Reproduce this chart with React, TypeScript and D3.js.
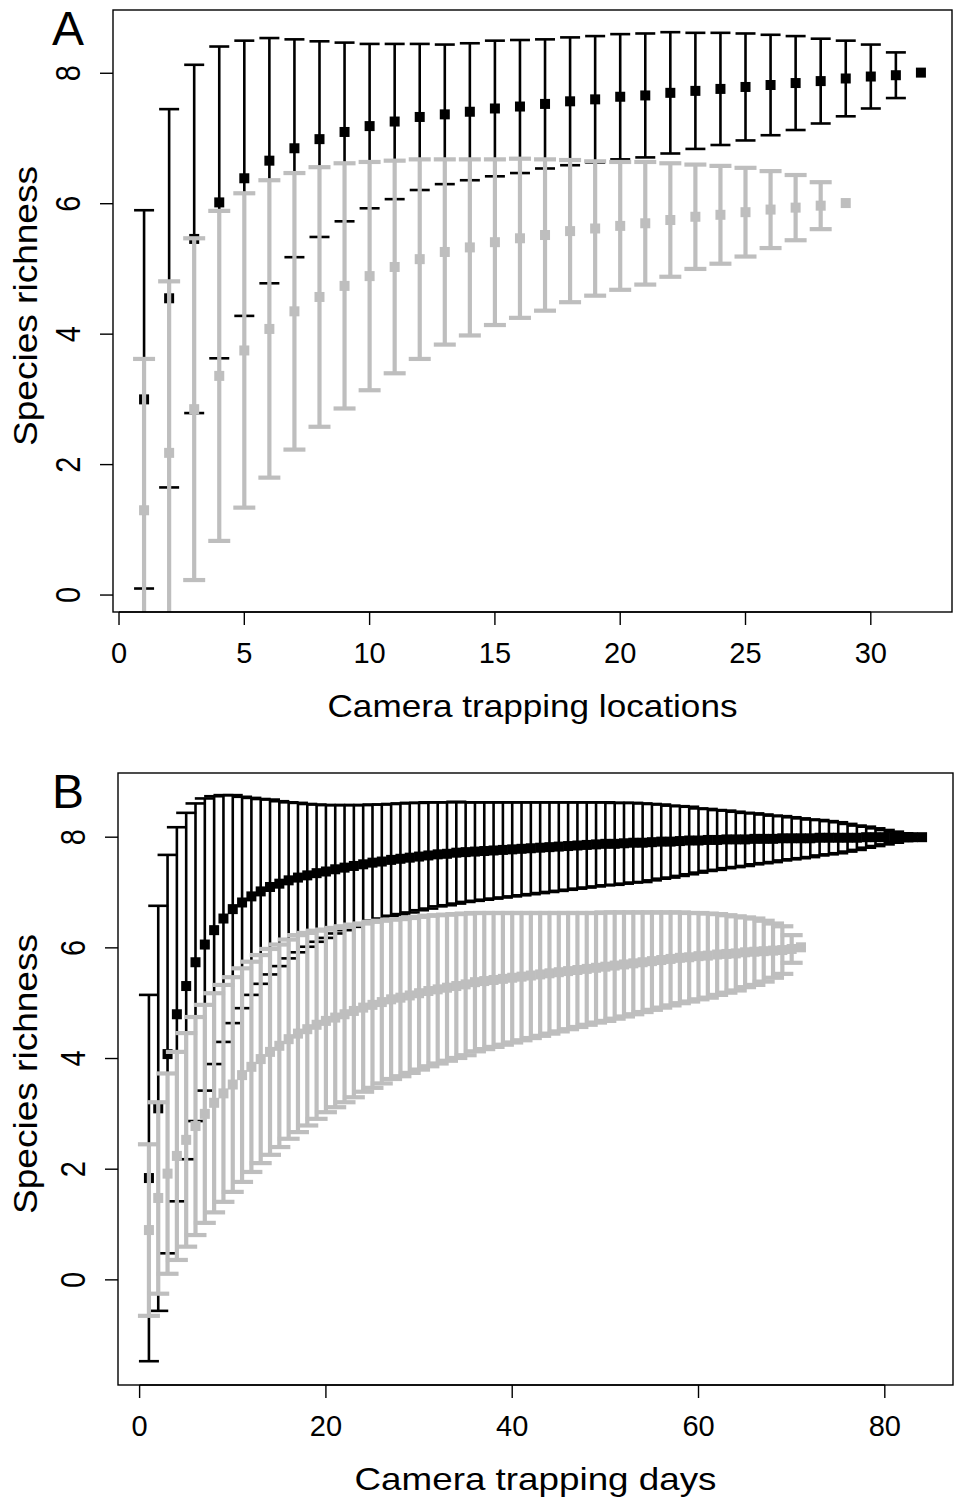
import * as d3 from "d3";

// Panel A: species richness vs number of camera trapping locations
const locBlackMean = [3.0, 4.55, 5.46, 6.02, 6.39, 6.66, 6.85, 6.99, 7.1, 7.19, 7.26, 7.33, 7.37, 7.41, 7.46, 7.49, 7.53, 7.57, 7.6, 7.64, 7.66, 7.7, 7.73, 7.76, 7.79, 7.82, 7.85, 7.88, 7.92, 7.95, 7.97, 8.01];
const locBlackSd = [2.9, 2.9, 2.67, 2.39, 2.11, 1.88, 1.67, 1.5, 1.37, 1.26, 1.19, 1.12, 1.07, 1.05, 1.04, 1.02, 0.99, 0.98, 0.97, 0.96, 0.95, 0.93, 0.89, 0.86, 0.82, 0.77, 0.72, 0.65, 0.58, 0.49, 0.35, 0];
const locGrayMean = [1.3, 2.18, 2.85, 3.36, 3.75, 4.08, 4.35, 4.57, 4.74, 4.89, 5.03, 5.15, 5.26, 5.33, 5.41, 5.47, 5.52, 5.58, 5.62, 5.66, 5.7, 5.75, 5.8, 5.83, 5.87, 5.91, 5.94, 5.97, 6.01];
const locGraySd = [2.32, 2.63, 2.62, 2.53, 2.41, 2.28, 2.12, 1.99, 1.88, 1.75, 1.63, 1.53, 1.42, 1.35, 1.27, 1.22, 1.16, 1.09, 1.03, 0.98, 0.94, 0.87, 0.8, 0.75, 0.68, 0.59, 0.5, 0.36, 0];
const locXTicks = [0, 5, 10, 15, 20, 25, 30];

// Panel B: species richness vs number of camera trapping days
const dayBlackMean = [
  1.84, 3.1, 4.08, 4.8, 5.31, 5.74, 6.06, 6.32, 6.53, 6.7,
  6.82, 6.93, 7.02, 7.1, 7.16, 7.22, 7.27, 7.31, 7.35, 7.38,
  7.42, 7.45, 7.48, 7.51, 7.54, 7.56, 7.59, 7.61, 7.63, 7.65,
  7.67, 7.69, 7.7, 7.72, 7.73, 7.74, 7.75, 7.76, 7.77, 7.78,
  7.79, 7.8, 7.81, 7.82, 7.83, 7.84, 7.85, 7.86, 7.87, 7.88,
  7.88, 7.89, 7.9, 7.9, 7.91, 7.92, 7.92, 7.93, 7.94, 7.94,
  7.95, 7.95, 7.96, 7.96, 7.96, 7.97, 7.97, 7.97, 7.98, 7.98,
  7.98, 7.98, 7.99, 7.99, 7.99, 7.99, 7.99, 8.0, 8.0, 8.0,
  8.0, 8.0, 8.0, 8.0,
];
const dayBlackSd = [
  3.31, 3.66, 3.6, 3.38, 3.13, 2.87, 2.64, 2.42, 2.23, 2.06,
  1.91, 1.78, 1.67, 1.58, 1.49, 1.41, 1.35, 1.29, 1.24, 1.2,
  1.16, 1.13, 1.1, 1.07, 1.05, 1.03, 1.01, 1.0, 0.99, 0.97,
  0.96, 0.94, 0.93, 0.92, 0.9, 0.89, 0.88, 0.87, 0.86, 0.85,
  0.84, 0.83, 0.82, 0.81, 0.8, 0.79, 0.78, 0.77, 0.76, 0.75,
  0.74, 0.73, 0.72, 0.71, 0.69, 0.67, 0.65, 0.63, 0.61, 0.58,
  0.56, 0.54, 0.52, 0.5, 0.48, 0.46, 0.44, 0.42, 0.4, 0.38,
  0.36, 0.34, 0.32, 0.3, 0.28, 0.25, 0.22, 0.19, 0.16, 0.13,
  0.1, 0.07, 0.04, 0,
];
const dayGrayMean = [
  0.9, 1.48, 1.92, 2.24, 2.53, 2.78, 3.0, 3.2, 3.37, 3.53,
  3.7, 3.85, 3.99, 4.12, 4.23, 4.35, 4.45, 4.53, 4.61, 4.68,
  4.74, 4.8, 4.86, 4.92, 4.97, 5.02, 5.07, 5.1, 5.14, 5.18,
  5.22, 5.25, 5.28, 5.31, 5.34, 5.38, 5.4, 5.42, 5.44, 5.46,
  5.48, 5.5, 5.52, 5.54, 5.56, 5.58, 5.6, 5.62, 5.64, 5.66,
  5.68, 5.7, 5.72, 5.74, 5.76, 5.78, 5.8, 5.82, 5.83, 5.85,
  5.86, 5.88, 5.89, 5.9, 5.92, 5.93, 5.94, 5.95, 5.96, 5.98,
  6.01,
];
const dayGraySd = [
  1.55, 1.73, 1.81, 1.88, 1.93, 1.97, 1.97, 1.98, 1.96, 1.94,
  1.93, 1.9, 1.88, 1.86, 1.83, 1.8, 1.78, 1.74, 1.7, 1.65,
  1.62, 1.59, 1.56, 1.52, 1.5, 1.47, 1.44, 1.42, 1.4, 1.38,
  1.36, 1.34, 1.32, 1.3, 1.28, 1.25, 1.23, 1.21, 1.19, 1.17,
  1.15, 1.13, 1.11, 1.09, 1.07, 1.05, 1.03, 1.01, 0.99, 0.98,
  0.96, 0.94, 0.92, 0.9, 0.88, 0.86, 0.84, 0.82, 0.8, 0.78,
  0.76, 0.73, 0.7, 0.67, 0.63, 0.6, 0.55, 0.49, 0.43, 0.25,
  0,
];
const dayXTicks = [0, 20, 40, 60, 80];

const yTicks = [0, 2, 4, 6, 8];

const FONT = "'Liberation Sans', Arial, Helvetica, sans-serif";
const GRAY = "#bebebe";

type Scale = d3.ScaleLinear<number, number>;

function ErrorSeries({ mean, sd, x, y, color, lw, cap, size }: {
  mean: number[]; sd: number[]; x: Scale; y: Scale;
  color: string; lw: number; cap: number; size: number;
}) {
  return (
    <g>
      {mean.map((m, i) => {
        const s = sd[i];
        if (!s) return null;
        const cx = x(i + 1);
        const y0 = y(m - s), y1 = y(m + s);
        return (
          <g key={"b" + i} stroke={color} strokeWidth={lw}>
            <line x1={cx} x2={cx} y1={y0} y2={y1} />
            <line x1={cx - cap} x2={cx + cap} y1={y0} y2={y0} />
            <line x1={cx - cap} x2={cx + cap} y1={y1} y2={y1} />
          </g>
        );
      })}
      {mean.map((m, i) => (
        <rect key={"p" + i} x={x(i + 1) - size / 2} y={y(m) - size / 2}
          width={size} height={size} fill={color} />
      ))}
    </g>
  );
}

function Panel({ id, box, xDomain, yDomain, xTicks, xTitle, xTitleLen, letter, black, gray }: {
  id: string;
  box: { left: number; right: number; top: number; bottom: number };
  xDomain: [number, number]; yDomain: [number, number];
  xTicks: number[]; xTitle: string; xTitleLen: number; letter: string;
  black: { mean: number[]; sd: number[] };
  gray: { mean: number[]; sd: number[] };
}) {
  const x = d3.scaleLinear().domain(xDomain).range([box.left, box.right]);
  const y = d3.scaleLinear().domain(yDomain).range([box.bottom, box.top]);
  const midX = (box.left + box.right) / 2;
  const midY = (box.top + box.bottom) / 2;
  const tickLen = 13;
  return (
    <g>
      <defs>
        <clipPath id={id}>
          <rect x={box.left} y={box.top} width={box.right - box.left} height={box.bottom - box.top} />
        </clipPath>
      </defs>
      <g clipPath={`url(#${id})`}>
        <ErrorSeries mean={black.mean} sd={black.sd} x={x} y={y} color="#000" lw={2.6} cap={10} size={10} />
        <ErrorSeries mean={gray.mean} sd={gray.sd} x={x} y={y} color={GRAY} lw={4.2} cap={11} size={10} />
      </g>
      <rect x={box.left} y={box.top} width={box.right - box.left} height={box.bottom - box.top}
        fill="none" stroke="#000" strokeWidth={1.4} />
      {/* x axis */}
      <line x1={x(xTicks[0])} x2={x(xTicks[xTicks.length - 1])} y1={box.bottom} y2={box.bottom} stroke="#000" strokeWidth={1.4} />
      {xTicks.map(t => (
        <g key={t}>
          <line x1={x(t)} x2={x(t)} y1={box.bottom} y2={box.bottom + tickLen} stroke="#000" strokeWidth={1.4} />
          <text x={x(t)} y={box.bottom + 51} textAnchor="middle" fontSize={29} fontFamily={FONT}>{t}</text>
        </g>
      ))}
      {/* y axis */}
      {yTicks.map(t => (
        <g key={t}>
          <line x1={box.left - tickLen} x2={box.left} y1={y(t)} y2={y(t)} stroke="#000" strokeWidth={1.4} />
          <text transform={`translate(${box.left - 33},${y(t)}) scale(1.22,1) rotate(-90)`} textAnchor="middle"
            fontSize={29} fontFamily={FONT}>{t}</text>
        </g>
      ))}
      <text x={midX} y={box.bottom + 105} textAnchor="middle" fontSize={32} fontFamily={FONT}
        textLength={xTitleLen} lengthAdjust="spacingAndGlyphs">{xTitle}</text>
      <text transform={`translate(37,${midY - 5}) scale(1.1,1) rotate(-90)`} textAnchor="middle" fontSize={30}
        fontFamily={FONT} textLength={280} lengthAdjust="spacingAndGlyphs">
        Species richness
      </text>
      <text x={52} y={box.top + 35} fontSize={48} fontFamily={FONT}>{letter}</text>
    </g>
  );
}

export default function App() {
  return (
    <svg width={955} height={1501} viewBox="0 0 955 1501"
      style={{ position: "absolute", left: 0, top: 0, background: "#fff" }}>
      <rect width={955} height={1501} fill="#fff" />
      <Panel id="clipA" letter="A" xTitle="Camera trapping locations" xTitleLen={410}
        box={{ left: 113, right: 952, top: 10, bottom: 612 }}
        xDomain={[-0.24, 33.24]} yDomain={[-0.26, 8.97]} xTicks={locXTicks}
        black={{ mean: locBlackMean, sd: locBlackSd }}
        gray={{ mean: locGrayMean, sd: locGraySd }} />
      <Panel id="clipB" letter="B" xTitle="Camera trapping days" xTitleLen={362}
        box={{ left: 118, right: 953, top: 773, bottom: 1385 }}
        xDomain={[-2.32, 87.32]} yDomain={[-1.9, 9.16]} xTicks={dayXTicks}
        black={{ mean: dayBlackMean, sd: dayBlackSd }}
        gray={{ mean: dayGrayMean, sd: dayGraySd }} />
    </svg>
  );
}
